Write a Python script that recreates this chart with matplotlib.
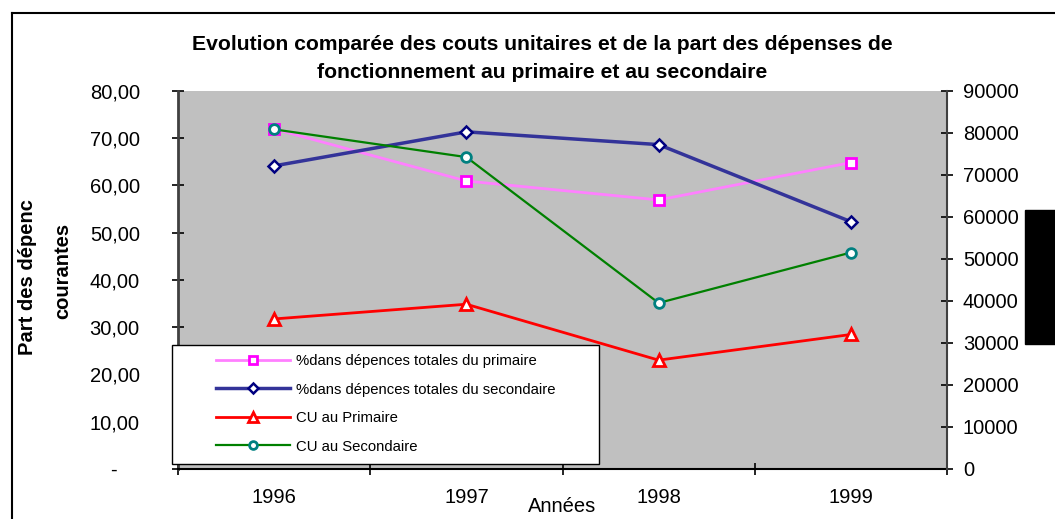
import numpy as np
import matplotlib
matplotlib.use("Agg")
import matplotlib.pyplot as plt
from matplotlib.patches import Rectangle
from matplotlib.lines import Line2D
from matplotlib.ticker import FuncFormatter

# donnees
years = ['1996', '1997', '1998', '1999']
part_primaire = [71.9, 60.9, 56.9, 64.8]
part_secondaire = [64.1, 71.3, 68.6, 52.3]
cu_primaire = [35700, 39200, 25900, 32000]
cu_secondaire = [80800, 74200, 39500, 51500]

left_ticks = np.arange(0, 81, 10)
right_ticks = np.arange(0, 90001, 10000)

series_labels = ['%dans dépences totales du primaire',
                 '%dans dépences totales du secondaire',
                 'CU au Primaire',
                 'CU au Secondaire']

plt.rcParams['font.family'] = ['Liberation Sans', 'DejaVu Sans']

W, H = 1055, 519


def fx(px):
    return px / W


def fy(py):
    return 1 - py / H


fig = plt.figure(figsize=(W / 100, H / 100), dpi=100)
ax = fig.add_axes([fx(178), fy(469), fx(947) - fx(178), fy(90.7) - fy(469)])
ax.set_facecolor('#C0C0C0')
ax2 = ax.twinx()

x = np.arange(len(years))
ax.plot(x, part_primaire, color='#FF80FF', lw=2, marker='s', ms=6.5,
        mfc='white', mec='#FF00FF', mew=2, label=series_labels[0])
ax.plot(x, part_secondaire, color='#333399', lw=2.5, marker='D', ms=6,
        mfc='white', mec='#000080', mew=1.8, label=series_labels[1])
ax2.plot(x, cu_primaire, color='#FF0000', lw=2, marker='^', ms=8.5,
         mfc='white', mec='#FF0000', mew=2, label=series_labels[2])
ax2.plot(x, cu_secondaire, color='#008000', lw=1.6, marker='o', ms=7,
         mfc='white', mec='#008080', mew=2, label=series_labels[3])

# axe des categories
ax.set_xlim(-0.5, len(years) - 0.5)
ax.set_xticks(np.arange(-0.5, len(years), 1))
ax.set_xticklabels([])
ax.set_xticks(x, minor=True)
ax.set_xticklabels(years, minor=True)
ax.tick_params(axis='x', which='major', direction='inout', length=8, width=1.2)
ax.tick_params(axis='x', which='minor', length=0, pad=14, labelsize=14.5)

# axe gauche
ax.set_ylim(0, 80)
ax.set_yticks(left_ticks)
ax.yaxis.set_major_formatter(FuncFormatter(
    lambda v, p: '-    ' if v == 0 else f'{v:.2f}'.replace('.', ',')))
ax.tick_params(axis='y', direction='inout', length=8, width=1.2, pad=23.5, labelsize=14.5)

# axe droit
ax2.set_ylim(0, 90000)
ax2.set_yticks(right_ticks)
ax2.yaxis.set_major_formatter(FuncFormatter(lambda v, p: f'{int(v)}'))
ax2.tick_params(axis='y', direction='inout', length=8, width=1.2, pad=7.5, labelsize=14.5)

for a in (ax, ax2):
    a.spines['top'].set_visible(False)
ax2.spines['left'].set_visible(False)
ax2.spines['bottom'].set_visible(False)
ax.spines['right'].set_visible(False)
ax.spines['left'].set_color('#404040')
ax.spines['left'].set_linewidth(2)
ax.spines['bottom'].set_linewidth(1.5)
ax2.spines['right'].set_color('#404040')
ax2.spines['right'].set_linewidth(1.5)

# legende
fig.add_artist(Rectangle((fx(172), fy(464)), fx(599) - fx(172), fy(345) - fy(464),
                         transform=fig.transFigure, facecolor='white',
                         edgecolor='black', lw=1, zorder=9))
h1, l1 = ax.get_legend_handles_labels()
h2, l2 = ax2.get_legend_handles_labels()
leg = fig.legend(h1 + h2, l1 + l2, loc='upper left',
                 bbox_to_anchor=(fx(216), fy(354)), frameon=False,
                 fontsize=10.7, handlelength=5, handletextpad=0.4,
                 labelspacing=0.98, borderpad=0, borderaxespad=0, markerscale=0.8)
leg.set_zorder(10)

# titres
fig.text(fx(542.5), fy(45), 'Evolution comparée des couts unitaires et de la part des dépenses de',
         ha='center', va='center', fontsize=15.2, weight='bold')
fig.text(fx(542.5), fy(73), 'fonctionnement au primaire et au secondaire',
         ha='center', va='center', fontsize=15.2, weight='bold')
fig.text(fx(28), fy(355), 'Part des dépenc', rotation=90, ha='center', va='bottom',
         fontsize=14.5, weight='bold')
fig.text(fx(63), fy(271), 'courantes', rotation=90, ha='center', va='center',
         fontsize=14.5, weight='bold')
fig.text(fx(562.5), fy(506), 'Années', ha='center', va='center', fontsize=14.5)

# cadre exterieur et bloc noir a droite
fig.add_artist(Line2D([fx(12), 1.0], [fy(13), fy(13)], color='black', lw=1.5))
fig.add_artist(Line2D([fx(12), fx(12)], [fy(13), 0.0], color='black', lw=1.5))
fig.add_artist(Rectangle((fx(1025), fy(344)), 1.0 - fx(1025), fy(210) - fy(344),
                         transform=fig.transFigure, color='black'))

fig.savefig('out.png', dpi=100)
